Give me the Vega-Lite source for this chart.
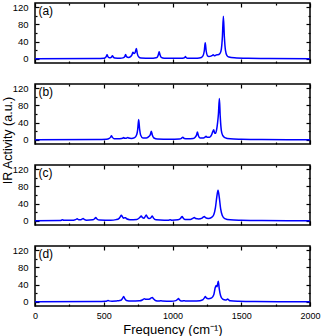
{
  "$schema": "https://vega.github.io/schema/vega-lite/v6.json",
  "padding": {"left": 0, "top": 1, "right": 0, "bottom": 2},
  "bounds": "flush",
  "spacing": 21,
  "config": {
    "font": "Liberation Sans",
    "view": {"stroke": "black", "strokeWidth": 1.5},
    "axis": {"domain": false, "grid": false, "tickColor": "black", "tickWidth": 1.2, "labelColor": "black", "labelFontSize": 9.5, "format": "d", "titleFontWeight": "normal", "titleColor": "black", "titleFontSize": 13}
  },
  "datasets": {
    "a": [{"f":0,"v":0},{"f":450,"v":0.3},{"f":500,"v":1},{"f":509,"v":2},{"f":518,"v":5},{"f":524,"v":9},{"f":530,"v":5},{"f":540,"v":2.5},{"f":548,"v":2.5},{"f":557,"v":4},{"f":563,"v":7},{"f":569,"v":4},{"f":580,"v":1.5},{"f":620,"v":1},{"f":640,"v":2},{"f":653,"v":5},{"f":659,"v":10},{"f":665,"v":5},{"f":680,"v":3},{"f":695,"v":5},{"f":705,"v":9},{"f":712,"v":15},{"f":720,"v":12},{"f":728,"v":14},{"f":737,"v":24},{"f":744,"v":12},{"f":755,"v":4},{"f":770,"v":1.5},{"f":840,"v":0.8},{"f":880,"v":2},{"f":890,"v":4},{"f":897,"v":9},{"f":903,"v":16},{"f":909,"v":9},{"f":918,"v":3},{"f":940,"v":1},{"f":1060,"v":0.8},{"f":1082,"v":1.5},{"f":1089,"v":3},{"f":1094,"v":5},{"f":1099,"v":3},{"f":1110,"v":1.2},{"f":1180,"v":1.2},{"f":1210,"v":3},{"f":1222,"v":7},{"f":1231,"v":18},{"f":1238,"v":37},{"f":1245,"v":18},{"f":1254,"v":7},{"f":1265,"v":5},{"f":1280,"v":6},{"f":1290,"v":8},{"f":1296,"v":9},{"f":1304,"v":7},{"f":1314,"v":8},{"f":1322,"v":9},{"f":1330,"v":9},{"f":1345,"v":12},{"f":1355,"v":22},{"f":1363,"v":52},{"f":1370,"v":99},{"f":1377,"v":52},{"f":1385,"v":20},{"f":1395,"v":8},{"f":1410,"v":4},{"f":1450,"v":2},{"f":1550,"v":0.8},{"f":1700,"v":0.3},{"f":2000,"v":0}],
    "b": [{"f":0,"v":0},{"f":450,"v":0.3},{"f":520,"v":1},{"f":540,"v":3},{"f":550,"v":6},{"f":556,"v":9},{"f":562,"v":6},{"f":575,"v":2.5},{"f":600,"v":2},{"f":630,"v":3},{"f":640,"v":4},{"f":645,"v":5},{"f":652,"v":3.5},{"f":665,"v":3.5},{"f":671,"v":4.5},{"f":676,"v":5},{"f":682,"v":4},{"f":700,"v":3},{"f":725,"v":5},{"f":740,"v":12},{"f":747,"v":24},{"f":754,"v":47},{"f":761,"v":24},{"f":768,"v":11},{"f":785,"v":4},{"f":810,"v":4},{"f":830,"v":8},{"f":839,"v":12},{"f":846,"v":20},{"f":853,"v":11},{"f":865,"v":4},{"f":890,"v":1.5},{"f":980,"v":1},{"f":1050,"v":1.5},{"f":1065,"v":3},{"f":1075,"v":6},{"f":1085,"v":3},{"f":1110,"v":2},{"f":1150,"v":3},{"f":1165,"v":6},{"f":1175,"v":11},{"f":1181,"v":18},{"f":1188,"v":10},{"f":1200,"v":4},{"f":1225,"v":4},{"f":1237,"v":6},{"f":1244,"v":8},{"f":1251,"v":6},{"f":1270,"v":6},{"f":1285,"v":12},{"f":1293,"v":19},{"f":1300,"v":23},{"f":1306,"v":16},{"f":1312,"v":15},{"f":1320,"v":22},{"f":1328,"v":40},{"f":1334,"v":60},{"f":1341,"v":96},{"f":1347,"v":55},{"f":1355,"v":22},{"f":1365,"v":10},{"f":1380,"v":5},{"f":1420,"v":2},{"f":1500,"v":1},{"f":1650,"v":0.3},{"f":2000,"v":0}],
    "c": [{"f":0,"v":0},{"f":180,"v":0.5},{"f":192,"v":1.2},{"f":200,"v":2.2},{"f":208,"v":1.2},{"f":230,"v":0.8},{"f":280,"v":1.2},{"f":295,"v":2.5},{"f":307,"v":4.5},{"f":318,"v":2.5},{"f":335,"v":2.5},{"f":343,"v":4},{"f":350,"v":5},{"f":358,"v":3},{"f":375,"v":1.2},{"f":420,"v":2},{"f":433,"v":4.5},{"f":442,"v":7.5},{"f":451,"v":4},{"f":470,"v":1.5},{"f":550,"v":1},{"f":590,"v":2.5},{"f":610,"v":5},{"f":620,"v":9},{"f":628,"v":12.7},{"f":636,"v":9},{"f":645,"v":6},{"f":653,"v":7},{"f":659,"v":7},{"f":666,"v":4.5},{"f":690,"v":2.5},{"f":740,"v":3},{"f":760,"v":7},{"f":773,"v":11},{"f":782,"v":7},{"f":792,"v":6},{"f":800,"v":9},{"f":809,"v":13.5},{"f":818,"v":8},{"f":830,"v":5},{"f":843,"v":7},{"f":853,"v":11},{"f":862,"v":6},{"f":880,"v":2},{"f":940,"v":1},{"f":970,"v":1.2},{"f":983,"v":2.2},{"f":995,"v":1.2},{"f":1040,"v":2},{"f":1058,"v":5},{"f":1064,"v":8},{"f":1070,"v":10},{"f":1076,"v":7},{"f":1090,"v":3},{"f":1130,"v":3},{"f":1150,"v":6},{"f":1159,"v":7.5},{"f":1168,"v":5},{"f":1190,"v":4},{"f":1215,"v":6},{"f":1225,"v":9},{"f":1232,"v":10},{"f":1240,"v":7},{"f":1260,"v":5},{"f":1285,"v":8},{"f":1300,"v":14},{"f":1312,"v":30},{"f":1322,"v":55},{"f":1331,"v":71},{"f":1340,"v":55},{"f":1350,"v":28},{"f":1362,"v":12},{"f":1380,"v":5},{"f":1420,"v":2},{"f":1500,"v":1},{"f":1650,"v":0.3},{"f":2000,"v":0}],
    "d": [{"f":0,"v":0},{"f":450,"v":0.3},{"f":515,"v":1},{"f":525,"v":2},{"f":531,"v":2.8},{"f":538,"v":2},{"f":560,"v":1.2},{"f":590,"v":1.5},{"f":600,"v":2.5},{"f":608,"v":2.5},{"f":625,"v":3.5},{"f":635,"v":7},{"f":645,"v":12},{"f":653,"v":7},{"f":665,"v":3},{"f":700,"v":1.5},{"f":760,"v":2},{"f":780,"v":4},{"f":789,"v":6},{"f":797,"v":7},{"f":805,"v":5.5},{"f":820,"v":5.5},{"f":838,"v":7},{"f":845,"v":9},{"f":853,"v":10},{"f":861,"v":7},{"f":875,"v":3},{"f":900,"v":1.5},{"f":912,"v":2},{"f":918,"v":2.5},{"f":926,"v":1.5},{"f":990,"v":1},{"f":1025,"v":2.5},{"f":1036,"v":5},{"f":1043,"v":7.5},{"f":1050,"v":4.5},{"f":1065,"v":1.5},{"f":1080,"v":2},{"f":1087,"v":2.5},{"f":1095,"v":1.5},{"f":1150,"v":1.5},{"f":1200,"v":2.5},{"f":1222,"v":5},{"f":1232,"v":9},{"f":1239,"v":12},{"f":1246,"v":9},{"f":1260,"v":7},{"f":1285,"v":9},{"f":1300,"v":16},{"f":1310,"v":32},{"f":1317,"v":38},{"f":1324,"v":35},{"f":1333,"v":48},{"f":1340,"v":30},{"f":1350,"v":14},{"f":1365,"v":6},{"f":1385,"v":4},{"f":1395,"v":5},{"f":1401,"v":6.5},{"f":1408,"v":4.5},{"f":1420,"v":2},{"f":1480,"v":1},{"f":1600,"v":0.4},{"f":2000,"v":0}]
  },
  "vconcat": [
    {
      "width": 275, "height": 60,
      "resolve": {"axis": {"x": "independent", "y": "independent"}},
      "layer": [
        {"data": {"name": "a"}, "mark": {"type": "line", "color": "#0000ff", "strokeWidth": 1.5, "interpolate": "monotone"},
         "encoding": {
           "x": {"field": "f", "type": "quantitative", "scale": {"domain": [0, 2000], "nice": false}, "axis": {"orient": "bottom", "values": [0,250,500,750,1000,1250,1500,1750,2000], "labels": false, "title": null, "tickSize": {"condition": {"test": "datum.value % 500 === 0", "value": -4}, "value": -2}}},
           "y": {"field": "v", "type": "quantitative", "scale": {"domain": [-10, 130], "nice": false}, "axis": {"orient": "left", "values": [0,20,40,60,80,100,120], "labelExpr": "datum.value % 40 === 0 ? datum.label : ''", "labelPadding": 11, "title": null, "tickSize": {"condition": {"test": "datum.value % 40 === 0", "value": -4}, "value": -2}}}
         }},
        {"data": {"values": [{"t": "(a)"}]}, "mark": {"type": "text", "align": "left", "baseline": "top", "fontSize": 12, "color": "black"},
         "encoding": {
           "text": {"field": "t"},
           "x": {"datum": 25, "type": "quantitative", "scale": {"domain": [0, 2000], "nice": false}, "axis": {"orient": "top", "values": [0,250,500,750,1000,1250,1500,1750,2000], "labels": false, "title": null, "tickSize": {"condition": {"test": "datum.value % 500 === 0", "value": -4}, "value": -2}}},
           "y": {"datum": 124, "type": "quantitative", "scale": {"domain": [-10, 130], "nice": false}, "axis": {"orient": "right", "values": [0,20,40,60,80,100,120], "labels": false, "title": null, "tickSize": {"condition": {"test": "datum.value % 40 === 0", "value": -4}, "value": -2}}}
         }}
      ]
    },
    {
      "width": 275, "height": 60,
      "resolve": {"axis": {"x": "independent", "y": "independent"}},
      "layer": [
        {"data": {"name": "b"}, "mark": {"type": "line", "color": "#0000ff", "strokeWidth": 1.5, "interpolate": "monotone"},
         "encoding": {
           "x": {"field": "f", "type": "quantitative", "scale": {"domain": [0, 2000], "nice": false}, "axis": {"orient": "bottom", "values": [0,250,500,750,1000,1250,1500,1750,2000], "labels": false, "title": null, "tickSize": {"condition": {"test": "datum.value % 500 === 0", "value": -4}, "value": -2}}},
           "y": {"field": "v", "type": "quantitative", "scale": {"domain": [-10, 130], "nice": false}, "axis": {"orient": "left", "values": [0,20,40,60,80,100,120], "labelExpr": "datum.value % 40 === 0 ? datum.label : ''", "labelPadding": 11, "title": "IR Activity (a.u.)", "titleFontSize": 12.5, "titleX": -21, "titleY": 56, "tickSize": {"condition": {"test": "datum.value % 40 === 0", "value": -4}, "value": -2}}}
         }},
        {"data": {"values": [{"t": "(b)"}]}, "mark": {"type": "text", "align": "left", "baseline": "top", "fontSize": 12, "color": "black"},
         "encoding": {
           "text": {"field": "t"},
           "x": {"datum": 25, "type": "quantitative", "scale": {"domain": [0, 2000], "nice": false}, "axis": {"orient": "top", "values": [0,250,500,750,1000,1250,1500,1750,2000], "labels": false, "title": null, "tickSize": {"condition": {"test": "datum.value % 500 === 0", "value": -4}, "value": -2}}},
           "y": {"datum": 124, "type": "quantitative", "scale": {"domain": [-10, 130], "nice": false}, "axis": {"orient": "right", "values": [0,20,40,60,80,100,120], "labels": false, "title": null, "tickSize": {"condition": {"test": "datum.value % 40 === 0", "value": -4}, "value": -2}}}
         }}
      ]
    },
    {
      "width": 275, "height": 60,
      "resolve": {"axis": {"x": "independent", "y": "independent"}},
      "layer": [
        {"data": {"name": "c"}, "mark": {"type": "line", "color": "#0000ff", "strokeWidth": 1.5, "interpolate": "monotone"},
         "encoding": {
           "x": {"field": "f", "type": "quantitative", "scale": {"domain": [0, 2000], "nice": false}, "axis": {"orient": "bottom", "values": [0,250,500,750,1000,1250,1500,1750,2000], "labels": false, "title": null, "tickSize": {"condition": {"test": "datum.value % 500 === 0", "value": -4}, "value": -2}}},
           "y": {"field": "v", "type": "quantitative", "scale": {"domain": [-10, 130], "nice": false}, "axis": {"orient": "left", "values": [0,20,40,60,80,100,120], "labelExpr": "datum.value % 40 === 0 ? datum.label : ''", "labelPadding": 11, "title": null, "tickSize": {"condition": {"test": "datum.value % 40 === 0", "value": -4}, "value": -2}}}
         }},
        {"data": {"values": [{"t": "(c)"}]}, "mark": {"type": "text", "align": "left", "baseline": "top", "fontSize": 12, "color": "black"},
         "encoding": {
           "text": {"field": "t"},
           "x": {"datum": 25, "type": "quantitative", "scale": {"domain": [0, 2000], "nice": false}, "axis": {"orient": "top", "values": [0,250,500,750,1000,1250,1500,1750,2000], "labels": false, "title": null, "tickSize": {"condition": {"test": "datum.value % 500 === 0", "value": -4}, "value": -2}}},
           "y": {"datum": 124, "type": "quantitative", "scale": {"domain": [-10, 130], "nice": false}, "axis": {"orient": "right", "values": [0,20,40,60,80,100,120], "labels": false, "title": null, "tickSize": {"condition": {"test": "datum.value % 40 === 0", "value": -4}, "value": -2}}}
         }}
      ]
    },
    {
      "width": 275, "height": 60,
      "resolve": {"axis": {"x": "independent", "y": "independent"}},
      "layer": [
        {"data": {"name": "d"}, "mark": {"type": "line", "color": "#0000ff", "strokeWidth": 1.5, "interpolate": "monotone"},
         "encoding": {
           "x": {"field": "f", "type": "quantitative", "scale": {"domain": [0, 2000], "nice": false}, "axis": {"orient": "bottom", "values": [0,250,500,750,1000,1250,1500,1750,2000], "labelExpr": "datum.value % 500 === 0 ? datum.label : ''", "labelFontSize": 9, "labelPadding": 9, "labelFlush": false, "title": "Frequency (cm⁻¹)", "titlePadding": 3, "tickSize": {"condition": {"test": "datum.value % 500 === 0", "value": -4}, "value": -2}}},
           "y": {"field": "v", "type": "quantitative", "scale": {"domain": [-10, 130], "nice": false}, "axis": {"orient": "left", "values": [0,20,40,60,80,100,120], "labelExpr": "datum.value % 40 === 0 ? datum.label : ''", "labelPadding": 11, "title": null, "tickSize": {"condition": {"test": "datum.value % 40 === 0", "value": -4}, "value": -2}}}
         }},
        {"data": {"values": [{"t": "(d)"}]}, "mark": {"type": "text", "align": "left", "baseline": "top", "fontSize": 12, "color": "black"},
         "encoding": {
           "text": {"field": "t"},
           "x": {"datum": 25, "type": "quantitative", "scale": {"domain": [0, 2000], "nice": false}, "axis": {"orient": "top", "values": [0,250,500,750,1000,1250,1500,1750,2000], "labels": false, "title": null, "tickSize": {"condition": {"test": "datum.value % 500 === 0", "value": -4}, "value": -2}}},
           "y": {"datum": 124, "type": "quantitative", "scale": {"domain": [-10, 130], "nice": false}, "axis": {"orient": "right", "values": [0,20,40,60,80,100,120], "labels": false, "title": null, "tickSize": {"condition": {"test": "datum.value % 40 === 0", "value": -4}, "value": -2}}}
         }}
      ]
    }
  ]
}
